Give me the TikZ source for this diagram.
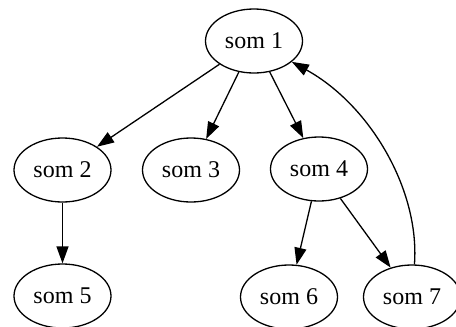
\documentclass[tikz,border=0pt]{standalone}
\usepackage{fontspec}
\setmainfont{Liberation Serif}
\usetikzlibrary{shapes.geometric,arrows.meta}
\begin{document}
\begin{tikzpicture}[x=1pt,y=-1pt,
  som/.style={ellipse,draw,line width=1.3pt,minimum width=97pt,minimum height=64pt,inner sep=0pt,font=\fontsize{24}{28}\selectfont},
  arr/.style={line width=1.3pt,-{Triangle[length=17pt,width=12pt]}}]
\useasboundingbox (0,0) rectangle (456,327);
\node[som] (s1) at (254,41) {som 1};
\node[som] (s2) at (62.5,170) {som 2};
\node[som] (s3) at (191,170) {som 3};
\node[som] (s4) at (319,169) {som 4};
\node[som] (s5) at (62.5,296) {som 5};
\node[som] (s6) at (289,297) {som 6};
\node[som] (s7) at (412,297) {som 7};
\draw[arr] (s1) -- (s2);
\draw[arr] (s1) -- (s3);
\draw[arr] (s1) -- (s4);
\draw[arr] (s2) -- (s5);
\draw[arr] (s4) -- (s6);
\draw[arr] (s4) -- (s7);
\draw[arr] (s7) .. controls (420,190) and (370,105) .. (s1);
\end{tikzpicture}
\end{document}
